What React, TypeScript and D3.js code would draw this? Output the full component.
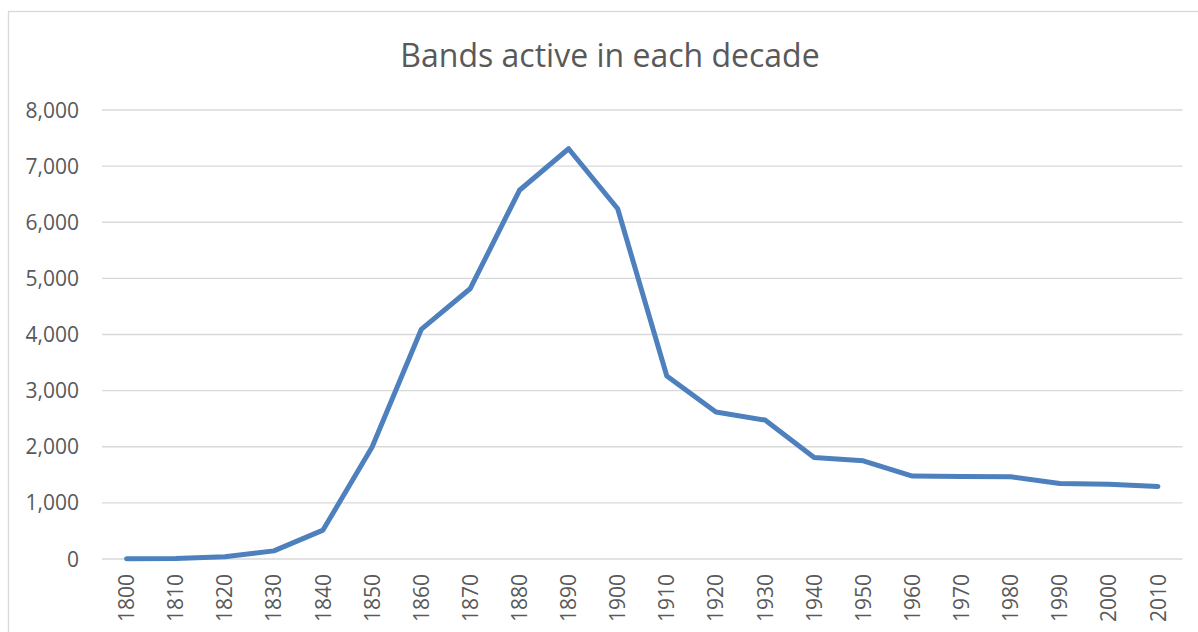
import React, { useEffect, useRef } from 'react';
import * as d3 from 'd3';

const WIDTH = 1198;
const HEIGHT = 632;
const LINE_COLOR = '#4e80bd';
const GRID_COLOR = '#d9d9d9';
const TEXT_COLOR = '#595959';
const FONT = '"Open Sans", "Liberation Sans", sans-serif';
const PLOT = { left: 102, right: 1182.5, top: 110, bottom: 559 };

const DECADES = [
  '1800', '1810', '1820', '1830', '1840', '1850', '1860', '1870', '1880', '1890', '1900',
  '1910', '1920', '1930', '1940', '1950', '1960', '1970', '1980', '1990', '2000', '2010',
];
const BANDS = [
  5, 10, 40, 145, 515, 1995, 4090, 4820, 6570, 7310, 6240,
  3260, 2620, 2475, 1810, 1750, 1478, 1472, 1465, 1347, 1334, 1293,
];
const Y_TICKS = [0, 1000, 2000, 3000, 4000, 5000, 6000, 7000, 8000];

const App: React.FC = () => {
  const svgRef = useRef<SVGSVGElement>(null);

  useEffect(() => {
    const svg = d3.select(svgRef.current);
    svg.selectAll('*').remove();

    // Chart area border (Excel style, runs off the right/bottom edge)
    svg.append('rect')
      .attr('x', 8.5).attr('y', 11.5)
      .attr('width', WIDTH + 20).attr('height', HEIGHT + 20)
      .attr('fill', '#fff').attr('stroke', GRID_COLOR).attr('stroke-width', 1.3);

    svg.append('text')
      .attr('x', 610).attr('y', 67)
      .attr('text-anchor', 'middle')
      .attr('fill', TEXT_COLOR)
      .attr('font-family', FONT)
      .attr('font-size', 32)
      .text('Bands active in each decade');

    const xScale = d3.scaleBand<string>().domain(DECADES).range([PLOT.left, PLOT.right]).padding(0);
    const xPos = (d: string) => (xScale(d) ?? 0) + xScale.bandwidth() / 2;
    const yScale = d3.scaleLinear().domain([0, 8000]).range([PLOT.bottom, PLOT.top]);

    // Gridlines
    svg.append('g')
      .selectAll('line')
      .data(Y_TICKS)
      .join('line')
      .attr('x1', PLOT.left).attr('x2', PLOT.right)
      .attr('y1', d => yScale(d)).attr('y2', d => yScale(d))
      .attr('stroke', GRID_COLOR).attr('stroke-width', 1.3);

    // Y axis labels
    const fmt = d3.format(',');
    svg.append('g')
      .selectAll('text')
      .data(Y_TICKS)
      .join('text')
      .attr('x', 79)
      .attr('y', d => yScale(d))
      .attr('dy', '0.36em')
      .attr('text-anchor', 'end')
      .attr('fill', TEXT_COLOR)
      .attr('font-family', FONT)
      .attr('font-size', 21)
      .text(d => fmt(d));

    // X axis labels, rotated
    svg.append('g')
      .selectAll('text')
      .data(DECADES)
      .join('text')
      .attr('transform', d => `translate(${xPos(d)},574) rotate(-90)`)
      .attr('dy', '0.36em')
      .attr('text-anchor', 'end')
      .attr('fill', TEXT_COLOR)
      .attr('font-family', FONT)
      .attr('font-size', 21)
      .text(d => d);

    const line = d3.line<number>()
      .x((_, i) => xPos(DECADES[i]))
      .y(v => yScale(v));

    svg.append('path')
      .datum(BANDS)
      .attr('fill', 'none')
      .attr('stroke', LINE_COLOR)
      .attr('stroke-width', 5)
      .attr('stroke-linejoin', 'round')
      .attr('stroke-linecap', 'round')
      .attr('d', line);
  }, []);

  return (
    <div style={{ position: 'fixed', left: 0, top: 0, width: WIDTH, height: HEIGHT, background: '#fff' }}>
      <svg ref={svgRef} width={WIDTH} height={HEIGHT} style={{ display: 'block' }} />
    </div>
  );
};

export default App;
